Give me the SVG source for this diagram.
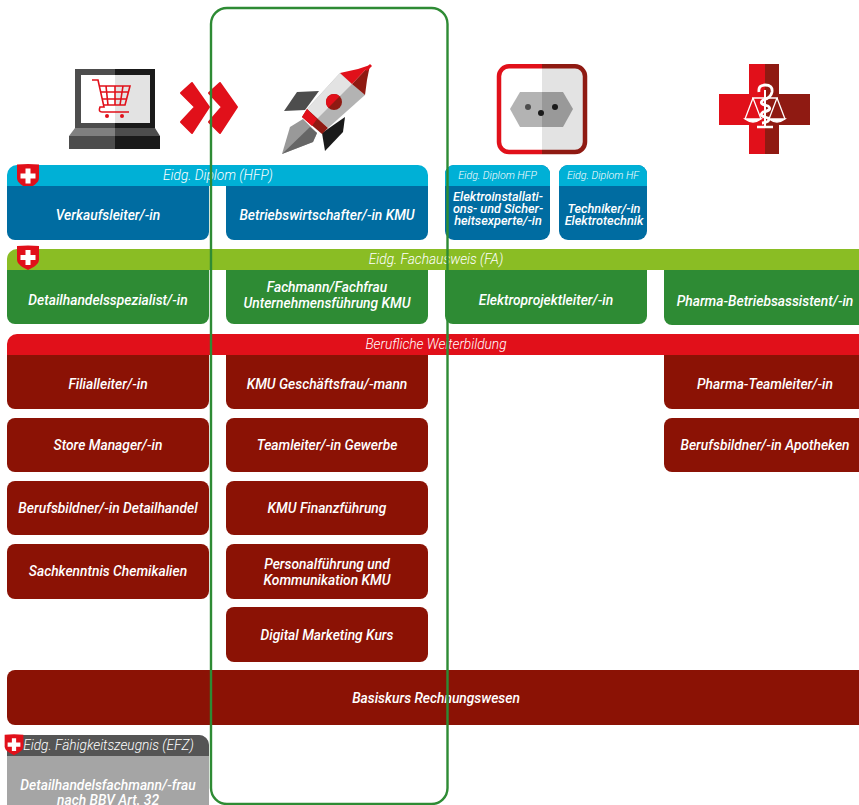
<svg xmlns="http://www.w3.org/2000/svg" width="859" height="805" viewBox="0 0 859 805">
<style>
text{font-family:Roboto,"Liberation Sans",sans-serif;font-style:italic;fill:#fff;text-anchor:middle}
.b{font-size:13.800px;font-weight:500}
.h{font-size:13.700px;font-weight:300}
.s{font-size:10.600px;font-weight:300}
.t{font-size:12.700px;font-weight:500}
.lb{fill:#00b0d6}.db{fill:#006ca1}.lg{fill:#8abd24}.dg{fill:#2e8b34}.r{fill:#e1101a}.dr{fill:#8b1205}
</style>
<defs>
<g id="shield"><path d="M-11,-11.500Q0,-12.500 11,-11.500V2C11,7 5,10 0,12.500C-5,10 -11,7 -11,2Z" fill="#e1101a"/><path d="M-2.500,-7.500H2.500V-2.500H7.500V2.500H2.500V7.500H-2.500V2.500H-7.500V-2.500H-2.500Z" fill="#fff"/></g>
</defs>
<g id="icon-laptop">
<path d="M75,69H115V128H75Z" fill="#4d4d4d"/><path d="M115,69H155V128H115Z" fill="#1a1a1a"/>
<path d="M81,75H115V123H81Z" fill="#fff"/><path d="M115,75H150V123H115Z" fill="#e3e3e3"/>
<path d="M75,128H115V136H69Z" fill="#808080"/><path d="M115,128H155L160,136H115Z" fill="#4d4d4d"/>
<path d="M69,136H115V149H69Z" fill="#4d4d4d"/><path d="M115,136H160V149H115Z" fill="#1a1a1a"/>
<g fill="none" stroke="#e1101a" stroke-width="1.600"><path d="M92,80H98L104,107H100Q98,112 102,112H129"/><path d="M99,86H130L125,105H103M106,86L108,105M115,86V105M123,86L120,105M100,92H128M102,99H126"/></g>
<circle cx="107" cy="116" r="2" fill="#e1101a"/><circle cx="122" cy="116" r="2" fill="#e1101a"/>
</g>
<g id="icon-chevrons" fill="#e1101a" stroke="#e1101a" stroke-width="2" stroke-linejoin="round">
<path d="M192,83L209,107L192,133L181,122L195,107L181,93Z"/>
<path d="M220,83L237,107L220,133L209,122L222,107L209,93Z"/>
</g>
<g id="icon-rocket">
<path d="M284,111L297,92L319,91L305,110Z" fill="#4d4d4d"/>
<path d="M322,133L345,117L343,132L325,151Z" fill="#1a1a1a"/>
<path d="M282,154L290,127L303,119L317,133L313,142Z" fill="#999"/>
<path d="M282,154L310,127L317,133L313,142Z" fill="#666"/>
<path d="M307,109L340,73L365,95L328,128Z" fill="#b3b3b3"/>
<path d="M307,109L340,73L352,84L317,119Z" fill="#e3e3e3"/>
<path d="M352,84L370,65L367,80L365,95Z" fill="#8f1a12"/>
<path d="M340,73L358,69L370,65L352,84Z" fill="#e1101a"/>
<path d="M302,117L307,109L328,128L322,134Z" fill="#8f1a12"/>
<path d="M302,117L307,109L317,119L312,126Z" fill="#e1101a"/>
<circle cx="334" cy="102" r="8" fill="#8f1a12"/>
<path d="M328.300,107.700A8,8 0 0 1 339.700,96.300Z" fill="#e1101a"/>
<path d="M365,69L370,64L372,66L367,71Z" fill="#e1101a"/>
</g>
<g id="icon-socket">
<rect x="499" y="66" width="86" height="86" rx="9" fill="#fff"/>
<path d="M542,66H576a9,9 0 0 1 9,9V143a9,9 0 0 1 -9,9H542Z" fill="#e3e3e3"/>
<path d="M542,66.300H509a10,10 0 0 0 -10,10V142a10,10 0 0 0 10,10H542" fill="none" stroke="#e1101a" stroke-width="4.500"/>
<path d="M542,66.300H575a10,10 0 0 1 10,10V142a10,10 0 0 1 -10,10H542" fill="none" stroke="#8f1a12" stroke-width="4.500"/>
<path d="M520,92H542V127H520L510,109Z" fill="#b3b3b3"/><path d="M542,92H563L573,109L563,127H542Z" fill="#999"/>
<circle cx="528" cy="107" r="3" fill="#4d4d4d"/><circle cx="541" cy="113" r="3" fill="#1a1a1a"/><circle cx="555" cy="107" r="3" fill="#1a1a1a"/>
</g>
<g id="icon-cross">
<path d="M749,64H765V154H749V125H719V94H749Z" fill="#e1101a"/>
<path d="M765,64H779V94H810V125H779V154H765Z" fill="#8f1a12"/>
<g fill="none" stroke="#fff" stroke-width="1.300">
<path d="M752,98H778M753,98L745,119M753,98L761,119M777,98L769,119M777,98L785,119"/>
<path d="M745,119Q753,125 761,119ZM769,119Q777,125 785,119Z" fill="#fff"/>
<path d="M765,90V126" stroke-width="2"/>
<path d="M757,127H773" stroke-width="2.500"/>
<path d="M759,92Q758,85 765,85Q773,85 772,92Q771,98 763,100Q758,104 768,106Q773,110 763,112Q758,116 768,118Q771,122 762,123" stroke-width="2.800"/>
</g>
</g>
<g id="row-hfp">
<path d="M7,186V175a10,10 0 0 1 10,-10H418a10,10 0 0 1 10,10V186Z" class="lb"/>
<text class="h" x="218" y="180">Eidg. Diplom (HFP)</text>
<use href="#shield" x="28" y="176"/>
</g>
<g id="node-verkaufsleiter"><path d="M7,186H209V232a8,8 0 0 1 -8,8H15a8,8 0 0 1 -8,-8Z" class="db"/><text class="b" x="108" y="220">Verkaufsleiter/-in</text></g>
<g id="node-betriebswirtschafter"><path d="M226,186H428V232a8,8 0 0 1 -8,8H234a8,8 0 0 1 -8,-8Z" class="db"/><text class="b" x="327" y="220">Betriebswirtschafter/-in KMU</text></g>
<g id="node-elektroinstallation"><rect x="445" y="165" width="105" height="75" rx="9" class="db"/><path d="M445,186V174a9,9 0 0 1 9,-9H541a9,9 0 0 1 9,9V186Z" class="lb"/>
<text class="s" x="497.500" y="179">Eidg. Diplom HFP</text><text class="t" x="498" y="201">Elektroinstallati-</text><text class="t" x="498" y="213">ons- und Sicher-</text><text class="t" x="498" y="225">heitsexperte/-in</text></g>
<g id="node-techniker"><rect x="559" y="165" width="88" height="75" rx="9" class="db"/><path d="M559,186V174a9,9 0 0 1 9,-9H638a9,9 0 0 1 9,9V186Z" class="lb"/>
<text class="s" x="603" y="179">Eidg. Diplom HF</text><text class="t" x="604" y="213">Techniker/-in</text><text class="t" x="604" y="225">Elektrotechnik</text></g>
<g id="row-fa">
<path d="M7,270V259a10,10 0 0 1 10,-10H859V270Z" class="lg"/>
<text class="h" x="436" y="264">Eidg. Fachausweis (FA)</text>
<use href="#shield" x="28" y="257.500"/>
</g>
<g id="node-detailhandelsspezialist"><path d="M7,270H209V316a8,8 0 0 1 -8,8H15a8,8 0 0 1 -8,-8Z" class="dg"/><text class="b" x="108" y="305">Detailhandelsspezialist/-in</text></g>
<g id="node-fachmann"><path d="M226,270H428V316a8,8 0 0 1 -8,8H234a8,8 0 0 1 -8,-8Z" class="dg"/><text class="b" x="327" y="292">Fachmann/Fachfrau</text><text class="b" x="327" y="308">Unternehmensführung KMU</text></g>
<g id="node-elektroprojektleiter"><path d="M445,270H647V316a8,8 0 0 1 -8,8H453a8,8 0 0 1 -8,-8Z" class="dg"/><text class="b" x="546" y="305">Elektroprojektleiter/-in</text></g>
<g id="node-pharma-betriebsassistent"><path d="M664,270H859V325H672a8,8 0 0 1 -8,-8Z" class="dg"/><text class="b" x="765" y="306">Pharma-Betriebsassistent/-in</text></g>
<g id="row-weiterbildung">
<path d="M7,355V344a10,10 0 0 1 10,-10H859V355Z" class="r"/>
<text class="h" x="436" y="349">Berufliche Weiterbildung</text>
</g>
<g id="node-filialleiter"><path d="M7,355H209V401a8,8 0 0 1 -8,8H15a8,8 0 0 1 -8,-8Z" class="dr"/><text class="b" x="108" y="389">Filialleiter/-in</text></g>
<g id="node-kmu-geschaeftsfrau"><path d="M226,355H428V401a8,8 0 0 1 -8,8H234a8,8 0 0 1 -8,-8Z" class="dr"/><text class="b" x="327" y="389">KMU Geschäftsfrau/-mann</text></g>
<g id="node-pharma-teamleiter"><path d="M664,355H859V409H672a8,8 0 0 1 -8,-8Z" class="dr"/><text class="b" x="765" y="389">Pharma-Teamleiter/-in</text></g>
<g id="node-store-manager"><rect x="7" y="418" width="202" height="54" rx="8" class="dr"/><text class="b" x="108" y="450">Store Manager/-in</text></g>
<g id="node-teamleiter"><rect x="226" y="418" width="202" height="54" rx="8" class="dr"/><text class="b" x="327" y="450">Teamleiter/-in Gewerbe</text></g>
<g id="node-berufsbildner-apotheken"><path d="M672,418H859V472H672a8,8 0 0 1 -8,-8V426a8,8 0 0 1 8,-8Z" class="dr"/><text class="b" x="765" y="450">Berufsbildner/-in Apotheken</text></g>
<g id="node-berufsbildner-detailhandel"><rect x="7" y="481" width="202" height="54" rx="8" class="dr"/><text class="b" x="108" y="513">Berufsbildner/-in Detailhandel</text></g>
<g id="node-kmu-finanzfuehrung"><rect x="226" y="481" width="202" height="54" rx="8" class="dr"/><text class="b" x="327" y="513">KMU Finanzführung</text></g>
<g id="node-sachkenntnis"><rect x="7" y="544" width="202" height="55" rx="8" class="dr"/><text class="b" x="108" y="576">Sachkenntnis Chemikalien</text></g>
<g id="node-personalfuehrung"><rect x="226" y="544" width="202" height="55" rx="8" class="dr"/><text class="b" x="327" y="569">Personalführung und</text><text class="b" x="327" y="585">Kommunikation KMU</text></g>
<g id="node-digital-marketing"><rect x="226" y="607" width="202" height="55" rx="8" class="dr"/><text class="b" x="327" y="640">Digital Marketing Kurs</text></g>
<g id="node-basiskurs"><path d="M15,670H859V725H15a8,8 0 0 1 -8,-8V678a8,8 0 0 1 8,-8Z" class="dr"/><text class="b" x="436" y="703">Basiskurs Rechnungswesen</text></g>
<g id="node-efz">
<path d="M7,805V745a10,10 0 0 1 10,-10H199a10,10 0 0 1 10,10V805Z" fill="#a5a5a5"/>
<path d="M7,756V745a10,10 0 0 1 10,-10H199a10,10 0 0 1 10,10V756Z" fill="#555"/>
<use href="#shield" transform="translate(14,744.500) scale(0.85)"/>
<text class="h" x="108.500" y="750">Eidg. Fähigkeitszeugnis (EFZ)</text>
<text class="b" x="108" y="790">Detailhandelsfachmann/-frau</text>
<text class="b" x="108" y="805">nach BBV Art. 32</text>
</g>
<g id="connectors"><rect x="211" y="8" width="236.500" height="796" rx="16" fill="none" stroke="#2e8b34" stroke-width="2.400"/></g>
</svg>
